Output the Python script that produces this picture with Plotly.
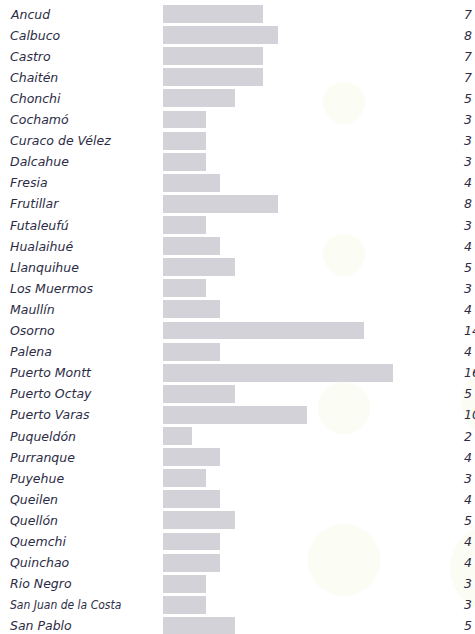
import plotly.graph_objects as go

comunas = ["Ancud", "Calbuco", "Castro", "Chaitén", "Chonchi", "Cochamó", "Curaco de Vélez",
           "Dalcahue", "Fresia", "Frutillar", "Futaleufú", "Hualaihué", "Llanquihue",
           "Los Muermos", "Maullín", "Osorno", "Palena", "Puerto Montt", "Puerto Octay",
           "Puerto Varas", "Puqueldón", "Purranque", "Puyehue", "Queilen", "Quellón",
           "Quemchi", "Quinchao", "Rio Negro", "San Juan de la Costa", "San Pablo"]
valores = [7, 8, 7, 7, 5, 3, 3, 3, 4, 8, 3, 4, 5, 3, 4, 14, 4, 16, 5, 10, 2, 4, 3, 4, 5,
           4, 4, 3, 3, 5]

W, H = 475, 634
L = 163
PW = W - L
PX_PER_UNIT = 14.35
ROW0, ROWSTEP = 14, 21.1

idx = list(range(len(comunas)))
xmax = PW / PX_PER_UNIT
ytop = -ROW0 / ROWSTEP
ybot = ytop + H / ROWSTEP

label_color = "#2c2c45"
font_family = "DejaVu Sans, sans-serif"

fig = go.Figure()
fig.add_trace(go.Bar(
    x=valores, y=idx, orientation="h",
    marker=dict(color="#d3d2d9", line=dict(width=0)),
    width=0.85, hoverinfo="skip", showlegend=False,
))

def px_x(p):
    return (p - L) / PW

def px_y(p):
    return 1 - p / H

shapes = []
for cx, cy, r in [(344, 103, 21), (344, 255, 21), (344, 408, 26), (496, 402, 35),
                  (344, 560, 36), (494, 568, 44)]:
    shapes.append(dict(type="circle", xref="paper", yref="paper",
                       x0=px_x(cx - r), x1=px_x(cx + r), y0=px_y(cy + r), y1=px_y(cy - r),
                       fillcolor="#fbfcf4", line=dict(width=0), layer="below"))

annotations = []
for i, (c, v) in enumerate(zip(comunas, valores)):
    if len(c) < 16:
        f = dict(family=font_family, size=12.5, color=label_color)
    else:
        f = dict(family="DejaVu Sans Condensed, DejaVu Sans, sans-serif", size=12, color=label_color)
    annotations.append(dict(x=px_x(8), y=i, xref="paper", yref="y", text=f"<i>{c}</i>",
                            xanchor="left", yanchor="middle", showarrow=False, font=f))
    annotations.append(dict(x=px_x(462), y=i, xref="paper", yref="y", text=f"<i>{v}</i>",
                            xanchor="left", yanchor="middle", showarrow=False,
                            font=dict(family=font_family, size=12.5, color=label_color)))

fig.update_layout(
    width=W, height=H,
    margin=dict(l=L, r=0, t=0, b=0),
    paper_bgcolor="white", plot_bgcolor="rgba(0,0,0,0)",
    xaxis=dict(range=[0, xmax], visible=False, fixedrange=True),
    yaxis=dict(range=[ybot, ytop], visible=False, fixedrange=True),
    shapes=shapes, annotations=annotations,
    bargap=0,
)

fig.write_html("out.html", config={"displayModeBar": False},
               post_script="document.body.style.margin='0';document.body.style.overflow='hidden';")
